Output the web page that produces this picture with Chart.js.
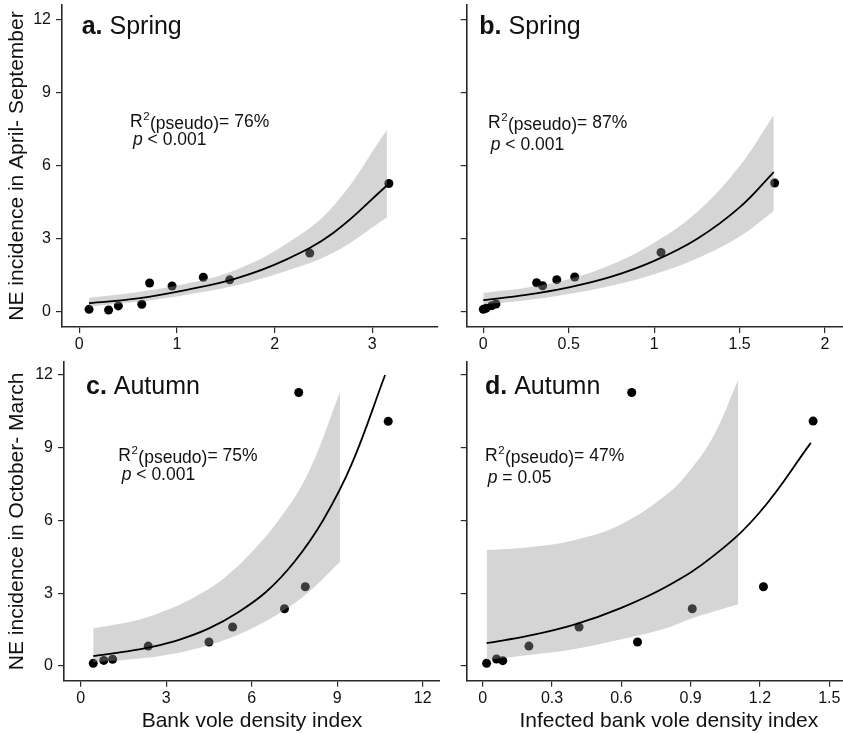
<!DOCTYPE html>
<html>
<head>
<meta charset="utf-8">
<script src="https://cdn.jsdelivr.net/npm/chart.js@4.4.1/dist/chart.umd.min.js"></script>
<style>
  html, body { margin: 0; padding: 0; background: #fff; overflow: hidden; }
  #wrap { position: relative; width: 843px; height: 734px; overflow: hidden; }
  #wrap canvas { position: absolute; }
</style>
</head>
<body>
<div id="wrap">
  <canvas id="panelA" width="440" height="360" style="left:0px;top:0px"></canvas>
  <canvas id="panelB" width="431" height="360" style="left:440px;top:0px"></canvas>
  <canvas id="panelC" width="440" height="374" style="left:0px;top:360px"></canvas>
  <canvas id="panelD" width="431" height="374" style="left:440px;top:360px"></canvas>
</div>
<script>
// ---- data ----
// a. spring, bank vole density
const aX = [0.10, 0.30, 0.40, 0.64, 0.72, 0.95, 1.27, 1.54, 2.36, 3.17];
const aY = [0.11, 0.08, 0.25, 0.32, 1.19, 1.07, 1.43, 1.32, 2.42, 5.28];
const aFitX = [0.10, 0.6, 1.1, 1.6, 2.1, 2.6, 3.15];
const aFitY = [0.36, 0.56, 0.91, 1.37, 2.12, 3.25, 5.20];
const aUpper = [0.58, 0.82, 1.17, 1.73, 2.75, 4.35, 7.48];
const aLower = [0.22, 0.42, 0.71, 1.09, 1.66, 2.43, 3.88];

// b. spring, infected bank vole density
const bX = [0.0, 0.016, 0.05, 0.074, 0.312, 0.347, 0.43, 0.535, 1.04, 1.705];
const bY = [0.11, 0.15, 0.26, 0.33, 1.20, 1.08, 1.33, 1.44, 2.45, 5.30];
const bFitX = [0, 0.25, 0.5, 0.75, 1.0, 1.25, 1.5, 1.7];
const bFitY = [0.49, 0.70, 1.01, 1.45, 2.10, 3.00, 4.30, 5.75];
const bUpper = [0.79, 1.00, 1.35, 1.95, 2.85, 4.10, 6.00, 8.10];
const bLower = [0.31, 0.48, 0.74, 1.08, 1.55, 2.20, 3.10, 4.15];

// c. autumn, bank vole density
const cX = [0.44, 0.81, 1.12, 2.37, 4.50, 5.33, 7.15, 7.88, 7.65, 10.79];
const cY = [0.11, 0.23, 0.28, 0.82, 0.99, 1.61, 2.36, 3.27, 11.28, 10.09];
const cFitX = [0.44, 1.5, 2.5, 3.5, 4.5, 5.5, 6.5, 7.5, 8.5, 9.5, 10.68];
const cFitY = [0.41, 0.58, 0.79, 1.10, 1.55, 2.20, 3.05, 4.30, 6.00, 8.30, 12.0];
const cBandX = [0.44, 2, 3, 4, 5, 6, 7, 8, 9.1];
const cUpper = [1.55, 1.90, 2.30, 2.85, 3.60, 4.70, 6.10, 8.00, 11.3];
const cLower = [0.16, 0.30, 0.45, 0.70, 1.05, 1.55, 2.20, 3.05, 4.30];

// d. autumn, infected bank vole density
const dX = [0.017, 0.06, 0.087, 0.20, 0.417, 0.67, 0.645, 0.907, 1.215, 1.43];
const dY = [0.11, 0.29, 0.22, 0.82, 1.61, 0.99, 11.28, 2.36, 3.27, 10.1];
const dFitX = [0.017, 0.2, 0.4, 0.6, 0.8, 1.0, 1.2, 1.42];
const dFitY = [0.94, 1.25, 1.72, 2.40, 3.30, 4.55, 6.35, 9.20];
const dBandX = [0.017, 0.2, 0.4, 0.6, 0.8, 0.9, 1.0, 1.106];
const dUpper = [4.78, 4.90, 5.20, 5.85, 7.10, 8.10, 9.50, 11.8];
const dLower = [0.25, 0.45, 0.70, 1.10, 1.58, 1.95, 2.25, 2.55];

// tick labels
const yTickValues = [0, 3, 6, 9, 12];
const aXTicks = [0, 1, 2, 3];
const bXTicks = [0, 0.5, 1, 1.5, 2];
const cXTicks = [0, 3, 6, 9, 12];
const dXTicks = [0, 0.3, 0.6, 0.9, 1.2, 1.5];

// texts
const panelLetters = ['a.', 'b.', 'c.', 'd.'];
const panelSeasons = ['Spring', 'Spring', 'Autumn', 'Autumn'];
const r2Values = ['76%', '87%', '75%', '47%'];
const pTexts = ['< 0.001', '< 0.001', '< 0.001', '= 0.05'];
const yTitles = ['NE incidence in April- September', 'NE incidence in October- March'];
const xTitles = ['Bank vole density index', 'Infected bank vole density index'];

// ---- drawing ----
const FONT = '"Liberation Sans", Arial, Helvetica, sans-serif';
const INK = '#111';
const AXIS = '#2a2a2a';
Chart.defaults.font.family = FONT;
Chart.defaults.color = INK;

const zip = (xs, ys) => xs.map((x, i) => ({ x: x, y: ys[i] }));

// panel heading and R2 / p annotation
const panelText = {
  id: 'panelText',
  afterDraw(chart, args, o) {
    const ctx = chart.ctx;
    ctx.save();
    ctx.fillStyle = INK;
    ctx.textAlign = 'left';
    ctx.textBaseline = 'alphabetic';

    ctx.font = `bold 25px ${FONT}`;
    ctx.fillText(o.letter, o.headX, o.headY);
    let x = o.headX + ctx.measureText(o.letter).width;
    ctx.font = `25px ${FONT}`;
    ctx.fillText(' ' + o.season, x, o.headY);

    ctx.font = `17.5px ${FONT}`;
    x = o.r2X;
    ctx.fillText('R', x, o.r2Y);
    x += ctx.measureText('R').width + 0.5;
    ctx.font = `11.5px ${FONT}`;
    ctx.fillText('2', x, o.r2Y - 7);
    x += ctx.measureText('2').width + 0.5;
    ctx.font = `17.5px ${FONT}`;
    ctx.fillText('(pseudo)', x, o.r2Y + 2);
    x += ctx.measureText('(pseudo)').width;
    ctx.fillText('= ' + o.r2, x, o.r2Y);

    ctx.font = `italic 17.5px ${FONT}`;
    ctx.fillText('p', o.pX, o.pY);
    x = o.pX + ctx.measureText('p').width;
    ctx.font = `17.5px ${FONT}`;
    ctx.fillText(' ' + o.pText, x, o.pY);
    ctx.restore();
  }
};

function axisOptions(p, which) {
  const isX = which === 'x';
  return {
    type: 'linear',
    min: isX ? p.xMin : p.yMin,
    max: isX ? p.xMax : p.yMax,
    afterBuildTicks: s => { s.ticks = (isX ? p.xTicks : yTickValues).map(v => ({ value: v })); },
    afterFit: s => {
      if (isX) s.height = p.xHeight; else s.width = p.yWidth;
      s.paddingTop = 0; s.paddingBottom = 0; s.paddingLeft = 0; s.paddingRight = 0;
    },
    grid: { drawOnChartArea: false, drawTicks: true, tickLength: 6, color: AXIS, lineWidth: 1.2 },
    border: { display: true, color: AXIS, width: 1.6 },
    ticks: {
      display: isX ? true : p.yLabels,
      autoSkip: false,
      maxRotation: 0,
      padding: isX ? 2 : 5,
      color: INK,
      font: { size: 16 },
      callback: v => String(v)
    },
    title: {
      display: isX ? !!p.xTitle : !!p.yTitle,
      text: isX ? p.xTitle : p.yTitle,
      color: INK,
      font: { size: 21 },
      padding: isX ? { top: 0, bottom: 0 } : { top: 5, bottom: 0 }
    }
  };
}

function buildPanel(p) {
  new Chart(document.getElementById(p.id), {
    type: 'line',
    data: {
      datasets: [
        { data: zip(p.fitX, p.fitY), borderColor: '#000', borderWidth: 1.8, pointRadius: 0,
          tension: 0.4, fill: false, order: 0 },
        { data: zip(p.bandX, p.upper), borderColor: 'rgba(0,0,0,0)', borderWidth: 0, pointRadius: 0,
          tension: 0.4, fill: '+1', backgroundColor: 'rgba(150,150,150,0.4)', order: 1 },
        { data: zip(p.bandX, p.lower), borderColor: 'rgba(0,0,0,0)', borderWidth: 0, pointRadius: 0,
          tension: 0.4, fill: false, order: 2 },
        { data: zip(p.ptX, p.ptY), showLine: false, pointRadius: 4.5, pointBackgroundColor: '#000',
          pointBorderColor: '#000', pointBorderWidth: 0, order: 3 }
      ]
    },
    options: {
      responsive: false,
      animation: false,
      events: [],
      layout: { autoPadding: false, padding: p.pad },
      plugins: {
        legend: { display: false },
        tooltip: { enabled: false },
        panelText: p.text
      },
      scales: { x: axisOptions(p, 'x'), y: axisOptions(p, 'y') }
    },
    plugins: [panelText]
  });
}

const panels = [
  { id: 'panelA', ptX: aX, ptY: aY, fitX: aFitX, fitY: aFitY, bandX: aFitX, upper: aUpper, lower: aLower,
    xTicks: aXTicks, xMin: -0.177, xMax: 3.673, yMin: -0.617, yMax: 12.618,
    yWidth: 62, xHeight: 33, pad: { top: 5, right: 2, left: 0, bottom: 0 },
    yLabels: true, yTitle: yTitles[0], xTitle: '',
    text: { letter: panelLetters[0], season: panelSeasons[0], headX: 81.7, headY: 34,
            r2: r2Values[0], r2X: 130, r2Y: 127, pText: pTexts[0], pX: 133, pY: 145 } },
  { id: 'panelB', ptX: bX, ptY: bY, fitX: bFitX, fitY: bFitY, bandX: bFitX, upper: bUpper, lower: bLower,
    xTicks: bXTicks, xMin: -0.0972, xMax: 2.269, yMin: -0.617, yMax: 12.618,
    yWidth: 26.7, xHeight: 33, pad: { top: 5, right: 0, left: 0, bottom: 0 },
    yLabels: false, yTitle: '', xTitle: '',
    text: { letter: panelLetters[1], season: panelSeasons[1], headX: 39.3, headY: 34,
            r2: r2Values[1], r2X: 48, r2Y: 128, pText: pTexts[1], pX: 50.7, pY: 150 } },
  { id: 'panelC', ptX: cX, ptY: cY, fitX: cFitX, fitY: cFitY, bandX: cBandX, upper: cUpper, lower: cLower,
    xTicks: cXTicks, xMin: -0.586, xMax: 12.607, yMin: -0.606, yMax: 12.536,
    yWidth: 64, xHeight: 53.3, pad: { top: 2, right: 0, left: 0, bottom: 0 },
    yLabels: true, yTitle: yTitles[1], xTitle: xTitles[0],
    text: { letter: panelLetters[2], season: panelSeasons[2], headX: 86, headY: 34,
            r2: r2Values[2], r2X: 118.3, r2Y: 101, pText: pTexts[2], pX: 121.7, pY: 120 } },
  { id: 'panelD', ptX: dX, ptY: dY, fitX: dFitX, fitY: dFitY, bandX: dBandX, upper: dUpper, lower: dLower,
    xTicks: dXTicks, xMin: -0.0692, xMax: 1.6805, yMin: -0.606, yMax: 12.536,
    yWidth: 26.7, xHeight: 53.3, pad: { top: 2, right: 0, left: 0, bottom: 0 },
    yLabels: false, yTitle: '', xTitle: xTitles[1],
    text: { letter: panelLetters[3], season: panelSeasons[3], headX: 45, headY: 34,
            r2: r2Values[3], r2X: 45, r2Y: 101, pText: pTexts[3], pX: 47.7, pY: 123 } }
];

panels.forEach(buildPanel);
</script>
</body>
</html>
